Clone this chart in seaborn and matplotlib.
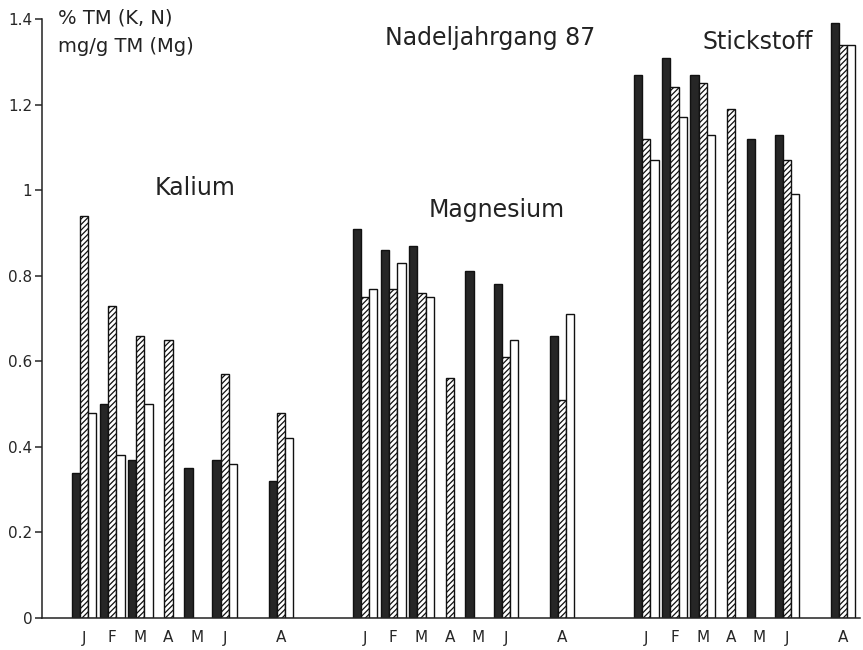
import numpy as np
import pandas as pd
import matplotlib
matplotlib.use("Agg")
import matplotlib.pyplot as plt
import seaborn as sns

nan = np.nan

# ---- data ----
elements = ["Kalium", "Magnesium", "Stickstoff"]
months = [1, 2, 3, 4, 5, 6, 8]
month_labels = ["J", "F", "M", "A", "M", "J", "A"]
series = ["Reihe 1", "Reihe 2", "Reihe 3"]  # black, hatched, white

kalium_1 = [0.34, 0.50, 0.37, nan, 0.35, 0.37, 0.32]
kalium_2 = [0.94, 0.73, 0.66, 0.65, nan, 0.57, 0.48]
kalium_3 = [0.48, 0.38, 0.50, nan, nan, 0.36, 0.42]

magnesium_1 = [0.91, 0.86, 0.87, nan, 0.81, 0.78, 0.66]
magnesium_2 = [0.75, 0.77, 0.76, 0.56, nan, 0.61, 0.51]
magnesium_3 = [0.77, 0.83, 0.75, nan, nan, 0.65, 0.71]

stickstoff_1 = [1.27, 1.31, 1.27, nan, 1.12, 1.13, 1.39]
stickstoff_2 = [1.12, 1.24, 1.25, 1.19, nan, 1.07, 1.34]
stickstoff_3 = [1.07, 1.17, 1.13, nan, nan, 0.99, 1.34]

ytick_values = [0, 0.2, 0.4, 0.6, 0.8, 1, 1.2, 1.4]
ytick_labels = ["0", "0.2", "0.4", "0.6", "0.8", "1", "1.2", "1.4"]

values = {
    "Kalium": [kalium_1, kalium_2, kalium_3],
    "Magnesium": [magnesium_1, magnesium_2, magnesium_3],
    "Stickstoff": [stickstoff_1, stickstoff_2, stickstoff_3],
}

rows = []
for g, el in enumerate(elements):
    for s, ser in enumerate(series):
        for m, v in zip(months, values[el][s]):
            if not np.isnan(v):
                rows.append({"pos": g * 10 + (m - 1), "wert": v, "serie": ser})
df = pd.DataFrame(rows)

# ---- plot ----
sns.set_style("ticks")
plt.rcParams["font.family"] = ["DejaVu Sans"]
plt.rcParams["hatch.linewidth"] = 0.9

W, H = 863, 650
fig = plt.figure(figsize=(W / 100, H / 100), dpi=100)
ax = fig.add_axes([42 / W, (H - 618) / H, (860 - 42) / W, (618 - 19) / H])

sns.barplot(data=df, x="pos", y="wert", hue="serie", hue_order=series,
            native_scale=True, width=0.87, dodge=True, legend=False,
            palette=["#222222", "white", "white"], ax=ax, saturation=1)

styles = [dict(fc="#262626", hatch=None), dict(fc="white", hatch="//////"),
          dict(fc="white", hatch=None)]
for cont, st in zip(ax.containers, styles):
    for bar in cont:
        bar.set_facecolor(st["fc"])
        bar.set_edgecolor("#111111")
        bar.set_linewidth(1.0)
        if st["hatch"]:
            bar.set_hatch(st["hatch"])

ax.set_xlim(-1.5, 27.6)
ax.set_ylim(0, 1.4)
xt = [g * 10 + (m - 1) for g in range(3) for m in months]
ax.set_xticks(xt)
ax.set_xticklabels(month_labels * 3, fontsize=11)
ax.tick_params(axis="x", length=0, pad=9)
ax.set_yticks(ytick_values)
ax.set_yticklabels(ytick_labels, fontsize=11)
ax.tick_params(axis="y", length=5, width=1.1, direction="out", pad=2)
ax.set_xlabel("")
ax.set_ylabel("")
sns.despine(ax=ax, top=True, right=True)
for sp in ["left", "bottom"]:
    ax.spines[sp].set_linewidth(1.1)
    ax.spines[sp].set_color("#222222")

def ftext(px, py, s, size, ha="center", va="center"):
    fig.text(px / W, 1 - py / H, s, fontsize=size, ha=ha, va=va, color="#222222")

ftext(58, 18, "% TM (K, N)", 14, ha="left")
ftext(58, 47, "mg/g TM (Mg)", 14, ha="left")
ftext(490, 38, "Nadeljahrgang 87", 17)
ftext(758, 42, "Stickstoff", 17)
ftext(195, 188, "Kalium", 17)
ftext(497, 210, "Magnesium", 17)

fig.savefig("out.png", dpi=100, facecolor="white")
